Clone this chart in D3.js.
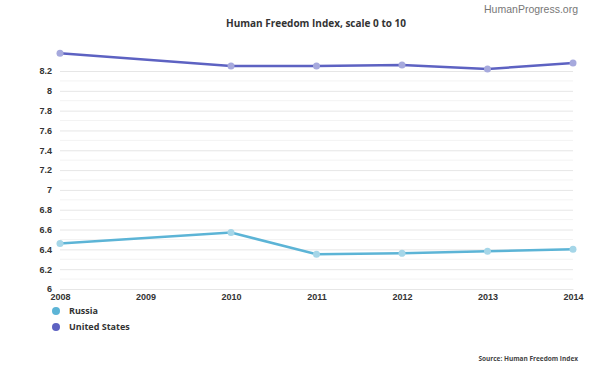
<!DOCTYPE html>
<html>
<head>
<meta charset="utf-8">
<script src="https://cdn.jsdelivr.net/npm/d3@7"></script>
<style>
	body { margin: 0; background: #fff; }
	svg { display: block; font-family: "Open Sans", sans-serif; }
</style>
</head>
<body>
<svg id="chart" width="600" height="371"></svg>
<script>
var years = [2008, 2010, 2011, 2012, 2013, 2014];
var russia = [6.46, 6.57, 6.35, 6.36, 6.38, 6.40];
var unitedStates = [8.38, 8.25, 8.25, 8.26, 8.22, 8.28];
var xTicks = [2008, 2009, 2010, 2011, 2012, 2013, 2014];
var yTicks = [6, 6.2, 6.4, 6.6, 6.8, 7, 7.2, 7.4, 7.6, 7.8, 8, 8.2];
var seriesNames = ["Russia", "United States"];
var seriesColors = ["#5cb4d6", "#5d62c2"];

var series = [
	{name: seriesNames[0], color: seriesColors[0], values: russia},
	{name: seriesNames[1], color: seriesColors[1], values: unitedStates}
];

var svg = d3.select("#chart");

var x = d3.scaleLinear().domain([2008, 2014]).range([60, 573]);
var y = d3.scaleLinear().domain([6, 8.2]).range([289, 71]);

// minor gridlines every 0.1
var minor = d3.range(6.1, 8.25, 0.2);
svg.append("g").selectAll("line")
	.data(minor)
	.enter().append("line")
	.attr("x1", x(2008)).attr("x2", x(2014))
	.attr("y1", function(d) { return y(d); })
	.attr("y2", function(d) { return y(d); })
	.attr("stroke", "#f3f3f3")
	.attr("stroke-width", 1);

var yAxis = svg.append("g")
	.attr("transform", "translate(" + x(2008) + ",0)")
	.call(d3.axisLeft(y).tickValues(yTicks).tickSize(-(x(2014) - x(2008))).tickPadding(8)
		.tickFormat(function(d) { return d3.format("~g")(d); }));
yAxis.select(".domain").remove();
yAxis.selectAll(".tick line").attr("stroke", "#e6e6e6");
yAxis.selectAll(".tick text")
	.attr("fill", "#333")
	.style("font-size", "9px")
	.style("font-weight", "bold");

var xAxis = svg.append("g")
	.attr("transform", "translate(0," + y(6) + ")")
	.call(d3.axisBottom(x).tickValues(xTicks).tickSize(0).tickPadding(5).tickFormat(d3.format("d")));
xAxis.select(".domain").attr("stroke", "#e6e6e6");
xAxis.selectAll(".tick text")
	.attr("fill", "#333")
	.style("font-size", "9px")
	.style("font-weight", "bold");

var line = d3.line()
	.x(function(d, i) { return x(years[i]); })
	.y(function(d) { return y(d); });

var s = svg.selectAll(".series")
	.data(series)
	.enter().append("g")
	.attr("class", "series");

s.append("path")
	.attr("d", function(d) { return line(d.values); })
	.attr("fill", "none")
	.attr("stroke", function(d) { return d.color; })
	.attr("stroke-width", 2.5);

s.selectAll("circle")
	.data(function(d) { return d.values.map(function(v, i) { return {v: v, year: years[i], color: d.color}; }); })
	.enter().append("circle")
	.attr("cx", function(d) { return x(d.year); })
	.attr("cy", function(d) { return y(d.v); })
	.attr("r", 3.5)
	.attr("fill", function(d) { return d3.interpolateRgb(d.color, "#fff")(0.45); });

// title and credits
svg.append("text")
	.attr("x", 316).attr("y", 27)
	.attr("text-anchor", "middle")
	.attr("fill", "#333")
	.style("font-size", "10px")
	.style("font-weight", "bold")
	.text("Human Freedom Index, scale 0 to 10");

svg.append("text")
	.attr("x", 578).attr("y", 13)
	.attr("text-anchor", "end")
	.attr("fill", "#777")
	.style("font-family", "Liberation Sans, Arial, sans-serif")
	.style("font-size", "10.5px")
	.text("HumanProgress.org");

svg.append("text")
	.attr("x", 578).attr("y", 361)
	.attr("text-anchor", "end")
	.attr("fill", "#444")
	.style("font-size", "6.5px")
	.style("font-weight", "bold")
	.text("Source: Human Freedom Index");

// legend
var legend = svg.selectAll(".legend")
	.data(series)
	.enter().append("g")
	.attr("class", "legend")
	.attr("transform", function(d, i) { return "translate(56," + (311 + i * 16) + ")"; });

legend.append("circle")
	.attr("r", 4)
	.attr("fill", function(d) { return d.color; });

legend.append("text")
	.attr("x", 13)
	.attr("dy", "0.35em")
	.attr("fill", "#333")
	.style("font-size", "9px")
	.style("font-weight", "bold")
	.text(function(d) { return d.name; });
</script>
</body>
</html>
